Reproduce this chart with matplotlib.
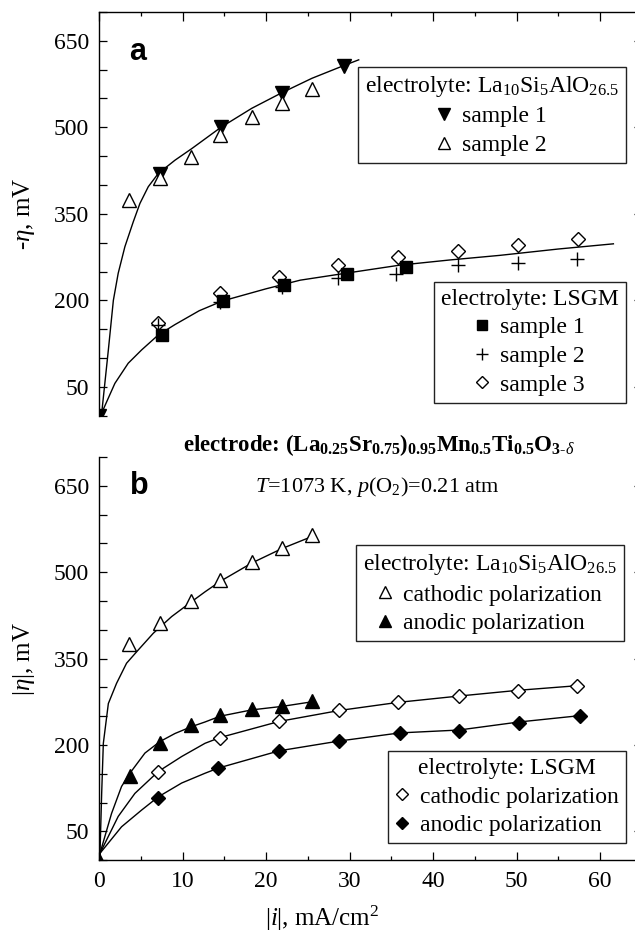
import numpy as np
import matplotlib
matplotlib.use("Agg")
import matplotlib.pyplot as plt
from matplotlib.ticker import MultipleLocator, FixedLocator, NullLocator

plt.rcParams['font.family'] = 'Liberation Serif'
plt.rcParams['mathtext.fontset'] = 'custom'
plt.rcParams['mathtext.rm'] = 'Liberation Serif'
plt.rcParams['mathtext.it'] = 'Liberation Serif:italic'
plt.rcParams['mathtext.bf'] = 'Liberation Serif:bold'

# ---- panel a: -eta vs i, two electrolytes ----
la_s1_x = [0.0, 7.3, 14.6, 21.9, 29.3]
la_s1_y = [0.0, 419, 501, 560, 607]
la_s2_x = [3.6, 7.3, 11.0, 14.5, 18.3, 21.9, 25.5]
la_s2_y = [374, 412, 449, 487, 518, 543, 566]
la_fit_x = [0.0, 0.32, 1.12, 1.72, 2.3, 3.1, 4.1, 4.9, 5.9, 7.1, 9.1, 11.1,
            14.6, 18.3, 21.9, 25.5, 29.3, 31.1]
la_fit_y = [0, 4, 114, 200, 247, 293, 336, 368, 397, 420, 443, 463,
            500, 533, 560, 585, 607, 617]

lsgm_s1_x = [7.5, 14.8, 22.1, 29.7, 36.8]
lsgm_s1_y = [140, 199, 227, 245, 258]
lsgm_s2_x = [7.1, 14.5, 21.9, 28.6, 35.6, 43.0, 50.2, 57.3]
lsgm_s2_y = [157, 197, 224, 238, 246, 261, 265, 271]
lsgm_s3_x = [7.1, 14.5, 21.6, 28.6, 35.8, 43.0, 50.2, 57.4]
lsgm_s3_y = [160, 212, 241, 261, 275, 286, 296, 306]
lsgm_fit_x = [0.0, 0.3, 1.9, 3.5, 5.1, 7.1, 9.1, 12.0, 14.8, 20.0, 24.1,
              30.0, 36.0, 42.0, 48.0, 55.0, 61.6]
lsgm_fit_y = [0, 4, 56, 91, 114, 140, 158, 182, 199, 220, 235,
              248, 261, 270, 278, 289, 298]

# ---- panel b: |eta| vs |i|, cathodic / anodic ----
la_cat_x = [3.6, 7.3, 11.0, 14.5, 18.3, 21.9, 25.5]
la_cat_y = [375, 412, 450, 486, 517, 542, 564]
la_cat_fit_x = [0.0, 0.12, 0.32, 0.52, 1.12, 2.1, 3.3, 4.7, 6.5, 8.7, 11.1,
                12.7, 14.5, 18.3, 21.9, 25.5]
la_cat_fit_y = [0, 12, 116, 203, 272, 307, 342, 365, 394, 423, 449,
                466, 484, 516, 541, 562]

la_an_x = [0.0, 3.7, 7.3, 11.0, 14.5, 18.3, 21.9, 25.5]
la_an_y = [0.0, 146, 204, 235, 252, 262, 268, 276]
la_an_fit_x = [0.0, 0.12, 1.5, 2.7, 3.7, 5.5, 7.3, 9.1, 11.1, 12.7,
               14.5, 18.3, 21.9, 25.5]
la_an_fit_y = [0, 12, 81, 128, 151, 186, 206, 220, 232, 240,
               250, 261, 267, 275]

lsgm_cat_x = [7.1, 14.5, 21.6, 28.8, 35.8, 43.1, 50.2, 57.3]
lsgm_cat_y = [154, 213, 242, 261, 274, 285, 294, 303]
lsgm_cat_fit_x = [0.0, 0.12, 2.3, 4.3, 7.1, 9.9, 12.7, 14.5, 21.6, 28.8,
                  35.8, 43.1, 50.2, 57.3]
lsgm_cat_fit_y = [0, 12, 76, 116, 154, 180, 203, 213, 241, 260,
                  274, 285, 295, 303]

lsgm_an_x = [7.1, 14.3, 21.6, 28.8, 36.0, 43.1, 50.3, 57.6]
lsgm_an_y = [108, 160, 190, 207, 220, 225, 239, 250]
lsgm_an_fit_x = [0.0, 0.12, 2.7, 5.1, 7.1, 9.9, 12.7, 14.3, 21.6, 28.8,
                 36.0, 43.1, 50.3, 57.6]
lsgm_an_fit_y = [0, 12, 58, 87, 110, 134, 151, 160, 190, 207,
                 221, 226, 240, 251]

y_major = [50, 200, 350, 500, 650]
x_major = [0, 10, 20, 30, 40, 50, 60]

FS = 17
MS = 9.5
LA_TITLE = 'electrolyte: La$_{10}$Si$_5$AlO$_{26.5}$'
LSGM_TITLE = 'electrolyte: LSGM'

fig = plt.figure(figsize=(6.35, 9.35), dpi=100)
ax_a = fig.add_axes([0.1559, 0.5554, 0.8548, 0.4318])
ax_b = fig.add_axes([0.1559, 0.0800, 0.8548, 0.4312])


def style_axes(ax, top_panel):
    ax.set_xlim(0, 65)
    ax.set_ylim(0, 700)
    ax.yaxis.set_major_locator(FixedLocator(y_major))
    ax.yaxis.set_minor_locator(MultipleLocator(50))
    ax.spines['right'].set_visible(False)
    for s in ax.spines.values():
        s.set_linewidth(1.0)
    ax.tick_params(axis='y', which='both', direction='in', length=5.8,
                   width=0.9, left=True, right=True, labelsize=FS, pad=7)
    ax.tick_params(axis='y', which='minor', right=False)
    ax.xaxis.set_major_locator(MultipleLocator(10))
    ax.xaxis.set_minor_locator(MultipleLocator(5))
    if top_panel:
        ax.spines['bottom'].set_visible(False)
        ax.tick_params(axis='x', which='both', direction='in', width=0.9,
                       top=True, bottom=False, labelbottom=False)
        ax.tick_params(axis='x', which='major', length=6.5)
        ax.tick_params(axis='x', which='minor', length=3.2)
    else:
        ax.spines['top'].set_visible(False)
        ax.xaxis.set_major_locator(FixedLocator(x_major))
        ax.tick_params(axis='x', which='both', direction='in', width=0.9,
                       top=False, bottom=True, labelsize=FS, pad=8)
        ax.tick_params(axis='x', which='major', length=5.8)
        ax.tick_params(axis='x', which='minor', length=3.0)


def make_legend(ax, handles, labels, title, loc, anchor):
    leg = ax.legend(handles, labels, title=title, loc=loc,
                    bbox_to_anchor=anchor, borderaxespad=0, fontsize=FS,
                    title_fontsize=FS, frameon=True, fancybox=False,
                    framealpha=1, edgecolor='#222222', handlelength=0.6,
                    handletextpad=0.45, labelspacing=0.3, borderpad=0.3,
                    markerscale=0.85, numpoints=1)
    leg.get_frame().set_linewidth(1.0)
    return leg


# ---------------- panel a ----------------
style_axes(ax_a, True)
ax_a.plot(la_fit_x, la_fit_y, color='black', lw=1.0, zorder=2)
ax_a.plot(lsgm_fit_x, lsgm_fit_y, color='black', lw=1.0, zorder=2)
h_la1, = ax_a.plot(la_s1_x, la_s1_y, ls='none', marker='v', ms=MS,
                   mfc='black', mec='black', zorder=3)
h_la2, = ax_a.plot(la_s2_x, la_s2_y, ls='none', marker='^', ms=MS,
                   mfc='white', mec='black', mew=1.0, zorder=4)
h_ls3, = ax_a.plot(lsgm_s3_x, lsgm_s3_y, ls='none', marker='D', ms=7,
                   mfc='white', mec='black', mew=1.0, zorder=3)
h_ls2, = ax_a.plot(lsgm_s2_x, lsgm_s2_y, ls='none', marker='+', ms=MS + 1,
                   mec='black', mew=1.0, zorder=4)
h_ls1, = ax_a.plot(lsgm_s1_x, lsgm_s1_y, ls='none', marker='s', ms=8,
                   mfc='black', mec='black', zorder=5)

leg1 = make_legend(ax_a, [h_la1, h_la2], ['sample 1', 'sample 2'],
                   LA_TITLE, 'upper right', (0.971, 0.8645))
ax_a.add_artist(leg1)
make_legend(ax_a, [h_ls1, h_ls2, h_ls3], ['sample 1', 'sample 2', 'sample 3'],
            LSGM_TITLE, 'lower right', (0.970, 0.032))

ax_a.set_ylabel(r'-$\eta$, mV', fontsize=FS + 1)
ax_a.yaxis.set_label_coords(-0.114, 0.5)
ax_a.text(0.072, 0.901, 'a', transform=ax_a.transAxes, family='Liberation Sans',
          fontweight='bold', fontsize=22, ha='center', va='center')

# ---------------- panel b ----------------
style_axes(ax_b, False)
ax_b.plot(la_cat_fit_x, la_cat_fit_y, color='black', lw=1.0, zorder=2)
ax_b.plot(la_an_fit_x, la_an_fit_y, color='black', lw=1.0, zorder=2)
ax_b.plot(lsgm_cat_fit_x, lsgm_cat_fit_y, color='black', lw=1.0, zorder=2)
ax_b.plot(lsgm_an_fit_x, lsgm_an_fit_y, color='black', lw=1.0, zorder=2)
h_lc, = ax_b.plot(la_cat_x, la_cat_y, ls='none', marker='^', ms=MS,
                  mfc='white', mec='black', mew=1.0, zorder=3)
h_lan, = ax_b.plot(la_an_x, la_an_y, ls='none', marker='^', ms=MS,
                   mfc='black', mec='black', zorder=3)
h_gc, = ax_b.plot(lsgm_cat_x, lsgm_cat_y, ls='none', marker='D', ms=7,
                  mfc='white', mec='black', mew=1.0, zorder=3)
h_gan, = ax_b.plot(lsgm_an_x, lsgm_an_y, ls='none', marker='D', ms=7,
                   mfc='black', mec='black', zorder=3)

leg3 = make_legend(ax_b, [h_lc, h_lan],
                   ['cathodic polarization', 'anodic polarization'],
                   LA_TITLE, 'upper right', (0.967, 0.7817))
ax_b.add_artist(leg3)
make_legend(ax_b, [h_gc, h_gan],
            ['cathodic polarization', 'anodic polarization'],
            LSGM_TITLE, 'lower right', (0.9705, 0.042))

ax_b.set_ylabel(r'|$\eta$|, mV', fontsize=FS + 1)
ax_b.yaxis.set_label_coords(-0.114, 0.5)
ax_b.set_xlabel(r'|$i$|, mA/cm$^2$', fontsize=FS + 1)
ax_b.xaxis.set_label_coords(0.411, -0.108)
ax_b.text(0.074, 0.928, 'b', transform=ax_b.transAxes, family='Liberation Sans',
          fontweight='bold', fontsize=22, ha='center', va='center')

# ---------------- captions between panels ----------------
fig.text(0.597, 0.518,
         r'electrode: (La$_{\mathbf{0.25}}$Sr$_{\mathbf{0.75}}$)$_{\mathbf{0.95}}$'
         r'Mn$_{\mathbf{0.5}}$Ti$_{\mathbf{0.5}}$O$_{\mathbf{3}\text{-}\delta}$',
         fontsize=FS - 0.5, fontweight='bold', ha='center', va='baseline')
fig.text(0.5945, 0.4738, r'$T$=1073 K, $p$(O$_2$)=0.21 atm',
         fontsize=FS - 1, ha='center', va='baseline')

fig.savefig('out.png', dpi=100)
